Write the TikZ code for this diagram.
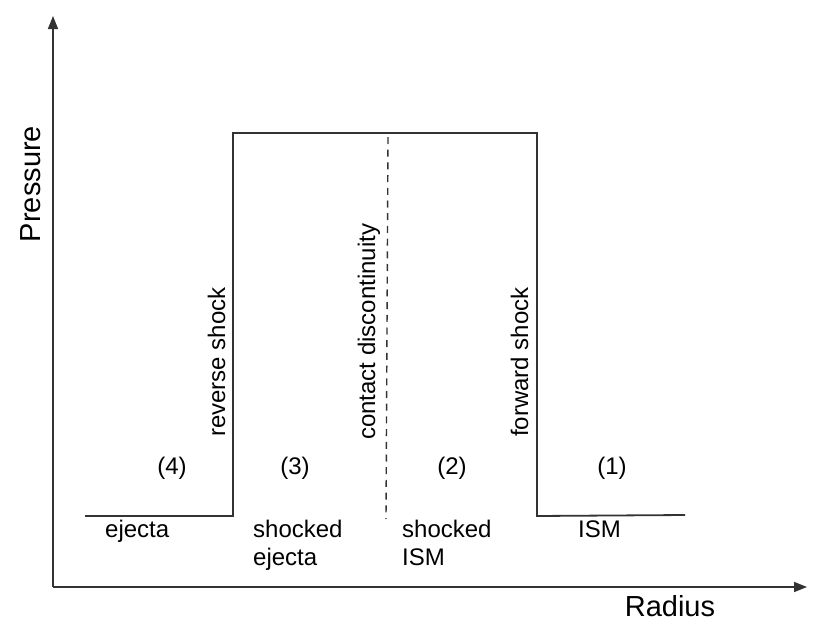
\documentclass[tikz,border=0pt]{standalone}
\usepackage{fontspec}
\setmainfont{Liberation Sans}
\usetikzlibrary{arrows.meta}
\begin{document}
\begin{tikzpicture}[x=1pt,y=-1pt,
  axis/.style={line width=1.6pt,draw=black!80,-{Triangle[length=13pt,width=10pt]}},
  curve/.style={line width=1.8pt,draw=black!80,line join=miter},
  cdash/.style={line width=1.4pt,draw=black!80,dash pattern=on 7pt off 5.7pt},
  lbl/.style={inner sep=0pt,font=\fontsize{24}{28}\selectfont},
  axlbl/.style={inner sep=0pt,font=\fontsize{29}{34}\selectfont},
  rlbl/.style={lbl,rotate=90,anchor=base west}]
\useasboundingbox (0,0) rectangle (830,637);
% axes
\coordinate (O) at (53,587);
\coordinate (ytip) at (53,16);
\coordinate (xtip) at (807,587);
\draw[axis] (O) -- (ytip);
\draw[axis] (O) -- (xtip);
% pressure profile
\coordinate (p1) at (85,516);
\coordinate (p2) at (233,516);
\coordinate (p3) at (233,133);
\coordinate (p4) at (537,133);
\coordinate (p5) at (537,516);
\coordinate (p6) at (685,515);
\draw[curve] (p1) -- (p2) -- (p3) -- (p4) -- (p5) -- (p6);
% contact discontinuity
\coordinate (c1) at (388,137);
\coordinate (c2) at (386,519);
\draw[cdash] (c1) -- (c2);
% axis labels
\node[axlbl] (rad) at (670,606) {Radius};
\node[axlbl,rotate=90] (pres) at (31,184) {Pressure};
% vertical labels
\node[rlbl] (rs) at (225,437) {reverse shock};
\node[rlbl] (cd) at (375,440) {contact discontinuity};
\node[rlbl] (fs) at (528,437) {forward shock};
% region numbers
\node[lbl] (r4) at (172,468) {(4)};
\node[lbl] (r3) at (295,468) {(3)};
\node[lbl] (r2) at (452,468) {(2)};
\node[lbl] (r1) at (612,468) {(1)};
% region names
\node[lbl,anchor=base west] (ej) at (105,537) {ejecta};
\node[lbl,anchor=base west,align=left] (sej) at (253,565) {shocked\\ejecta};
\node[lbl,anchor=base west,align=left] (sism) at (402,565) {shocked\\ISM};
\node[lbl,anchor=base west] (ism) at (578,537) {ISM};
\end{tikzpicture}
\end{document}
